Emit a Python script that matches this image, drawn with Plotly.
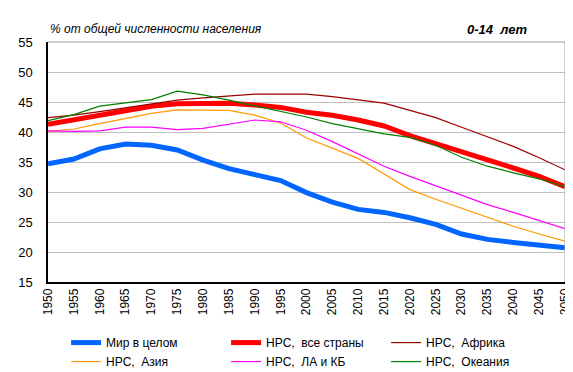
import plotly.graph_objects as go

years = [1950, 1955, 1960, 1965, 1970, 1975, 1980, 1985, 1990, 1995, 2000,
         2005, 2010, 2015, 2020, 2025, 2030, 2035, 2040, 2045, 2050]

world = [34.7, 35.5, 37.2, 38.0, 37.8, 37.0, 35.3, 33.9, 32.9, 31.9, 29.9,
         28.3, 27.1, 26.6, 25.7, 24.6, 23.0, 22.1, 21.6, 21.1, 20.7]
ldc_all = [41.3, 42.0, 42.8, 43.6, 44.3, 44.7, 44.8, 44.8, 44.5, 44.1, 43.3,
           42.8, 42.0, 41.0, 39.4, 38.1, 36.7, 35.4, 34.0, 32.6, 30.9]
africa = [42.4, 42.8, 43.4, 44.0, 44.7, 45.3, 45.7, 46.0, 46.3, 46.3, 46.3,
          45.9, 45.4, 44.8, 43.6, 42.4, 40.8, 39.2, 37.6, 35.7, 33.7]
asia = [40.1, 40.5, 41.4, 42.3, 43.1, 43.7, 43.7, 43.6, 42.8, 41.5, 39.0,
        37.3, 35.6, 33.0, 30.4, 28.8, 27.3, 25.7, 24.3, 23.0, 21.8]
latam = [40.2, 40.1, 40.2, 40.8, 40.8, 40.4, 40.6, 41.3, 42.0, 41.7, 40.3,
         38.4, 36.4, 34.3, 32.6, 31.0, 29.4, 27.9, 26.6, 25.3, 23.9]
oceania = [41.9, 42.9, 44.3, 44.8, 45.4, 46.8, 46.2, 45.3, 44.4, 43.4, 42.5,
           41.4, 40.6, 39.7, 39.1, 37.8, 35.8, 34.3, 33.2, 32.2, 30.9]

names = ["Мир в целом", "НРС,  все страны", "НРС,  Африка",
         "НРС,  Азия", "НРС,  ЛА и КБ", "НРС,  Океания"]
series = [world, ldc_all, africa, asia, latam, oceania]
colors = ["#0066FF", "#FF0000", "#990000", "#FF9900", "#FF00FF", "#008000"]
widths = [5, 5, 1.2, 1.2, 1.2, 1.2]

x_ticks = list(range(1950, 2051, 5))
y_ticks = list(range(15, 56, 5))

fig = go.Figure()
for i in range(6):
    fig.add_trace(go.Scatter(
        x=years, y=series[i], mode="lines", name=names[i],
        line=dict(color=colors[i], width=widths[i]),
    ))

font_family = "Liberation Sans, Arial, sans-serif"

fig.update_layout(
    width=573, height=372,
    margin=dict(l=40, r=16, t=34, b=98, autoexpand=False),
    paper_bgcolor="white", plot_bgcolor="white",
    font=dict(family=font_family, size=12, color="black"),
    showlegend=True,
    legend=dict(
        orientation="h", x=0.035, y=-0.192, xanchor="left", yanchor="top",
        entrywidth=115, entrywidthmode="pixels",
        font=dict(size=12, family=font_family),
        tracegroupgap=0, itemwidth=30,
        bgcolor="rgba(0,0,0,0)",
    ),
    xaxis=dict(
        range=[1950, 2050], tickvals=x_ticks, ticktext=[str(v) for v in x_ticks],
        tickangle=-90, showgrid=False, zeroline=False,
        showline=True, linecolor="black", linewidth=1.5,
        ticks="", tickfont=dict(size=12), ticklabelstandoff=0,
    ),
    yaxis=dict(
        range=[15, 55], tickvals=y_ticks, showgrid=True, gridcolor="#C0C0C0",
        gridwidth=1, zeroline=False, showline=True, linecolor="black",
        linewidth=1.5, ticks="", tickfont=dict(size=13), ticklabelstandoff=11,
    ),
    shapes=[
        dict(type="line", xref="paper", yref="paper", x0=1, x1=1, y0=0, y1=1,
             line=dict(color="#A0A0A0", width=1)),
        dict(type="line", xref="paper", yref="paper", x0=0, x1=1, y0=1, y1=1,
             line=dict(color="#A0A0A0", width=1)),
    ],
    annotations=[
        dict(text="<i>% от общей численности населения</i>", xref="paper",
             yref="paper", x=0.0, y=1.0, xanchor="left", yanchor="bottom",
             yshift=4, showarrow=False, font=dict(size=12)),
        dict(text="<b><i>0-14  лет</i></b>", xref="paper", yref="paper",
             x=0.931, y=1.0, xanchor="right", yanchor="bottom", yshift=3,
             showarrow=False, font=dict(size=13)),
    ],
)

fig.write_html("out.html")
